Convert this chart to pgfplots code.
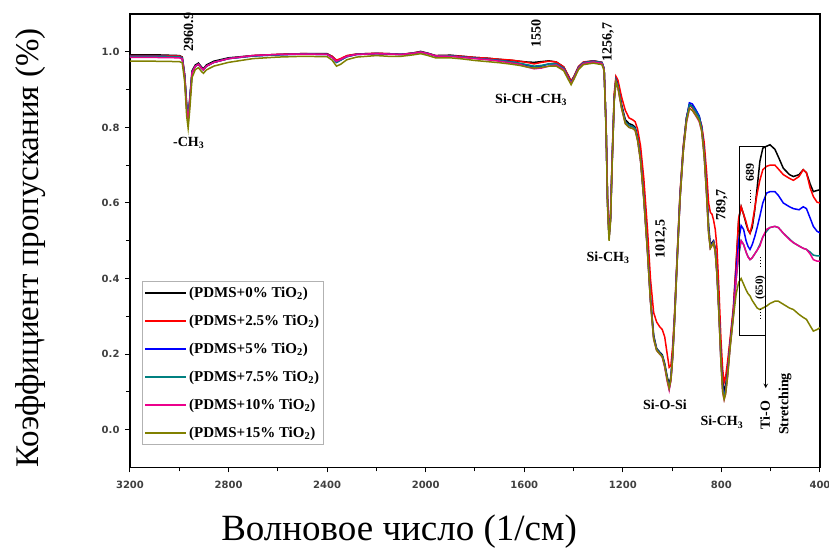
\documentclass[border=0pt]{standalone}
\usepackage{fontspec}
\setmainfont{Liberation Serif}
\newfontfamily\tickfont{DejaVu Sans}
\usepackage{pgfplots}
\usepackage{pgfplotstable}
\pgfplotsset{compat=1.18}
\definecolor{olivec}{RGB}{128,128,0}
\definecolor{tealc}{RGB}{0,128,128}

\pgfplotstableread{
x K R B T M O
3200 .992 .990 .988 .988 .985 .975
3100 .992 .990 .988 .988 .985 .975
3000 .990 .989 .987 .987 .984 .974
2988 .986 .985 .983 .983 .981 .971
2978 .940 .935 .935 .935 .932 .920
2970 .860 .850 .855 .855 .850 .830
2964 .825 .818 .822 .822 .815 .798
2957 .880 .870 .875 .875 .870 .850
2948 .950 .945 .945 .945 .945 .932
2935 .965 .962 .962 .962 .962 .953
2922 .970 .967 .967 .967 .967 .958
2910 .960 .957 .957 .957 .957 .948
2902 .955 .953 .952 .952 .952 .943
2890 .965 .962 .962 .962 .962 .952
2860 .975 .972 .972 .972 .972 .962
2800 .984 .982 .982 .982 .982 .972
2700 .990 .990 .989 .989 .990 .982
2600 .993 .993 .992 .992 .993 .986
2500 .995 .995 .994 .994 .994 .988
2400 .995 .994 .993 .993 .993 .987
2380 .988 .988 .985 .985 .985 .978
2362 .976 .978 .972 .972 .975 .962
2345 .980 .982 .978 .978 .980 .967
2320 .989 .990 .987 .987 .988 .979
2280 .994 .994 .993 .993 .993 .986
2200 .996 .996 .995 .995 .995 .990
2150 .995 .995 .994 .994 .994 .988
2100 .993 .993 .993 .993 .993 .988
2050 .997 .997 .996 .996 .996 .992
2020 1.001 1.000 .999 .999 .999 .995
1990 .996 .995 .995 .995 .995 .990
1960 .990 .990 .989 .989 .989 .984
1900 .991 .990 .989 .989 .988 .984
1850 .988 .988 .986 .986 .985 .981
1800 .985 .985 .983 .983 .982 .977
1750 .983 .983 .980 .980 .979 .974
1700 .980 .980 .977 .977 .975 .971
1650 .977 .978 .973 .973 .970 .967
1620 .975 .975 .969 .970 .967 .964
1590 .973 .972 .964 .966 .960 .960
1560 .972 .968 .960 .962 .955 .957
1530 .974 .972 .962 .964 .957 .959
1500 .976 .975 .968 .968 .962 .962
1470 .973 .973 .968 .968 .965 .962
1440 .960 .960 .956 .956 .953 .950
1420 .935 .935 .930 .930 .928 .925
1410 .922 .922 .918 .918 .916 .913
1398 .935 .935 .932 .932 .930 .928
1380 .960 .961 .958 .958 .956 .953
1360 .972 .973 .971 .971 .969 .966
1320 .976 .976 .975 .975 .973 .970
1285 .972 .972 .971 .971 .969 .966
1276 .955 .955 .955 .955 .953 .950
1268 .800 .805 .800 .800 .800 .790
1262 .600 .610 .600 .600 .600 .590
1256 .510 .520 .510 .510 .508 .500
1250 .560 .570 .560 .560 .555 .550
1243 .720 .730 .720 .720 .715 .710
1235 .880 .890 .875 .875 .870 .870
1228 .930 .935 .925 .925 .920 .920
1220 .915 .925 .910 .910 .905 .905
1205 .860 .880 .855 .855 .850 .850
1190 .820 .845 .815 .815 .810 .810
1175 .810 .825 .805 .805 .800 .800
1160 .806 .820 .802 .802 .797 .797
1150 .800 .815 .797 .797 .792 .792
1140 .775 .795 .770 .770 .765 .765
1128 .720 .750 .715 .715 .710 .710
1115 .620 .665 .615 .615 .610 .610
1100 .480 .530 .475 .475 .470 .470
1088 .350 .400 .345 .345 .340 .340
1075 .250 .310 .245 .245 .240 .240
1063 .215 .285 .213 .213 .210 .210
1050 .205 .272 .203 .203 .200 .200
1040 .198 .265 .195 .195 .192 .193
1030 .175 .245 .170 .170 .165 .168
1020 .140 .200 .135 .135 .128 .132
1012 .120 .165 .110 .110 .105 .110
1005 .140 .170 .135 .135 .130 .132
998 .200 .220 .195 .195 .190 .190
990 .300 .310 .295 .295 .290 .290
980 .450 .455 .445 .445 .440 .440
968 .620 .625 .615 .615 .610 .610
955 .745 .750 .740 .740 .735 .735
942 .825 .825 .822 .822 .812 .815
930 .860 .858 .865 .860 .850 .850
918 .857 .852 .862 .855 .845 .845
905 .845 .840 .848 .843 .832 .833
890 .828 .825 .830 .826 .815 .818
880 .800 .805 .800 .798 .790 .790
870 .740 .760 .735 .732 .725 .725
860 .640 .680 .630 .625 .620 .620
852 .540 .600 .530 .525 .520 .520
845 .490 .575 .485 .482 .480 .480
838 .495 .570 .492 .490 .488 .488
832 .500 .555 .498 .496 .494 .494
825 .480 .530 .475 .472 .470 .470
818 .420 .480 .415 .412 .410 .410
810 .320 .370 .315 .310 .305 .305
802 .200 .240 .190 .185 .180 .180
795 .130 .160 .115 .110 .100 .100
789 .105 .125 .092 .090 .080 .080
783 .115 .140 .105 .102 .095 .095
775 .160 .180 .150 .148 .142 .140
765 .230 .240 .225 .222 .218 .215
752 .310 .320 .305 .300 .298 .295
740 .440 .445 .420 .400 .400 .360
730 .555 .560 .500 .460 .470 .390
720 .590 .590 .540 .500 .500 .400
710 .570 .570 .530 .490 .490 .385
700 .545 .550 .500 .470 .470 .370
692 .528 .530 .485 .458 .457 .360
684 .520 .520 .477 .450 .450 .354
675 .535 .545 .490 .455 .455 .342
665 .580 .585 .510 .465 .465 .332
655 .640 .625 .535 .475 .475 .322
644 .710 .660 .565 .490 .486 .318
632 .745 .688 .600 .510 .510 .322
617 .750 .697 .626 .525 .530 .327
603 .754 .700 .630 .535 .535 .334
583 .742 .700 .630 .538 .538 .340
569 .722 .690 .620 .535 .535 .340
549 .692 .675 .600 .520 .520 .332
524 .675 .665 .590 .505 .503 .322
508 .670 .660 .585 .495 .495 .318
485 .675 .670 .582 .486 .486 .305
468 .688 .688 .590 .480 .480 .297
455 .680 .680 .585 .477 .477 .292
440 .650 .640 .560 .470 .465 .275
427 .630 .617 .538 .462 .450 .261
412 .633 .602 .525 .460 .446 .265
400 .635 .600 .521 .460 .446 .270
}\ftir

\newcommand{\annot}{\bfseries\fontsize{14}{16}\selectfont}

\begin{document}
\begin{tikzpicture}
\begin{axis}[name=ax, scale only axis, width=690pt, height=453.5pt,
  x dir=reverse, xmin=400, xmax=3200, ymin=-0.1, ymax=1.1,
  xtick={400,800,1200,1600,2000,2400,2800,3200},
  minor xtick={600,1000,1400,1800,2200,2600,3000},
  ytick={0,0.2,0.4,0.6,0.8,1.0},
  minor ytick={0.1,0.3,0.5,0.7,0.9},
  tick pos=left, tick align=outside,
  major tick length=5pt, minor tick length=4pt,
  every tick/.style={black, line width=1pt},
  axis line style={line width=1.3pt},
  ticklabel style={font=\tickfont\bfseries\fontsize{10}{12}\selectfont, text=black!75},
  /pgf/number format/assume math mode=true,
  yticklabel style={xshift=-2pt, /pgf/number format/.cd, fixed, fixed zerofill, precision=1},
  xticklabel style={yshift=-5pt, /pgf/number format/.cd, fixed, 1000 sep={}},
  xlabel={Волновое число (1/см)},
  ylabel={Коэффициент пропускания (\%)},
  xlabel style={font=\fontsize{37}{42}\selectfont, at={(axis description cs:0.39,-0.16)}, anchor=base},
  ylabel style={font=\fontsize{33}{38}\selectfont, at={(axis description cs:-0.1435,0.484)}, anchor=center},
  legend style={at={(axis description cs:0.017,0.412)}, anchor=north west,
    draw=gray!60, line width=1pt, font=\bfseries\fontsize{15}{17}\selectfont,
    row sep=12pt, inner xsep=2pt, inner ysep=4pt},
  legend cell align=left,
  legend image code/.code={\draw[#1, line width=2pt] (0pt,0pt) -- (41pt,0pt);},
  clip mode=individual,
  every axis plot/.append style={line width=1.5pt},
]
\addplot[black] table[x=x,y=K] {\ftir};
\addplot[red] table[x=x,y=R] {\ftir};
\addplot[blue] table[x=x,y=B] {\ftir};
\addplot[tealc] table[x=x,y=T] {\ftir};
\addplot[magenta] table[x=x,y=M] {\ftir};
\addplot[olivec] table[x=x,y=O] {\ftir};
\legend{(PDMS+0\% TiO\textsubscript{2}),(PDMS+2.5\% TiO\textsubscript{2}),(PDMS+5\% TiO\textsubscript{2}),(PDMS+7.5\% TiO\textsubscript{2}),(PDMS+10\% TiO\textsubscript{2}),(PDMS+15\% TiO\textsubscript{2})}

\node[rotate=90, font=\annot] at (axis cs:2962,1.052) {2960.9};
\node[font=\annot] at (axis cs:2962,0.759) {-CH\textsubscript{3}};
\node[rotate=90, font=\annot] at (axis cs:1552,1.048) {1550};
\node[font=\annot] at (axis cs:1572,0.873) {Si-CH -CH\textsubscript{3}};
\node[rotate=90, font=\annot] at (axis cs:1260,1.026) {1256,7};
\node[font=\annot] at (axis cs:1260,0.455) {Si-CH\textsubscript{3}};
\node[rotate=90, font=\annot] at (axis cs:1045,0.505) {1012,5};
\node[font=\annot] at (axis cs:1029,0.065) {Si-O-Si};
\node[rotate=90, font=\annot] at (axis cs:798,0.595) {789,7};
\node[font=\annot] at (axis cs:798,0.02) {Si-CH\textsubscript{3}};
\node[rotate=90, font=\bfseries\fontsize{12}{14}\selectfont] at (axis cs:684,0.68) {689};
\draw[dotted, line width=1pt] (axis cs:684,0.635) -- (axis cs:684,0.60);
\node[rotate=90, font=\bfseries\fontsize{11}{13}\selectfont] at (axis cs:643,0.376) {(650)};
\draw[dotted, line width=1pt] (axis cs:643,0.43) -- (axis cs:643,0.46);
\draw[dotted, line width=1pt] (axis cs:643,0.32) -- (axis cs:643,0.29);
\draw[line width=1pt] (axis cs:728,0.248) rectangle (axis cs:620,0.75);
\draw[line width=1pt, -stealth] (axis cs:620,0.248) -- (axis cs:620,0.11);
\node[rotate=90, font=\annot] at (axis cs:623,0.039) {Ti-O};
\node[rotate=90, font=\annot] at (axis cs:542,0.068) {Stretching};
\end{axis}
\pgfresetboundingbox
\path ([shift={(-130pt,-82.5pt)}]ax.south west) rectangle ([shift={(9pt,14pt)}]ax.north east);
\end{tikzpicture}
\end{document}
